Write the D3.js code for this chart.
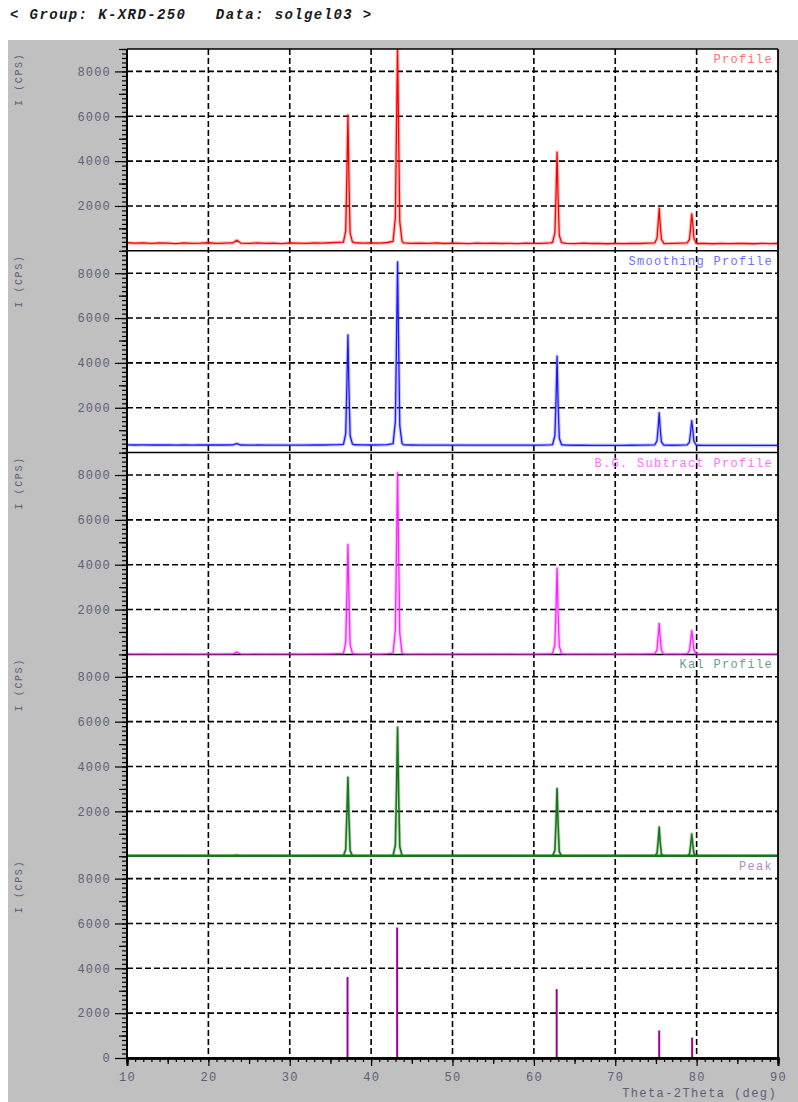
<!DOCTYPE html>
<html>
<head>
<meta charset="utf-8">
<script src="https://d3js.org/d3.v7.min.js"></script>
<style>
  body { margin: 0; background: #fff; }
  svg text { font-family: "Liberation Mono", "DejaVu Sans Mono", monospace; }
</style>
</head>
<body>
<svg id="chart"></svg>
<script>
// shared 2-theta grid (deg)
var twoTheta = [
  10, 11, 12, 13, 14, 15, 16, 17, 18, 19, 20, 21, 22, 23, 23.5,
  24, 25, 26, 27, 28, 29, 30, 31, 32, 33, 34, 35, 36,
  36.6, 36.88, 37.02, 37.15, 37.28, 37.42, 37.7,
  38, 39, 40, 41, 42,
  42.7, 42.98, 43.12, 43.25, 43.38, 43.52, 43.8,
  44, 45, 46, 47, 48, 49, 50, 51, 52, 53, 54, 55, 56, 57, 58, 59, 60, 61, 62,
  62.3, 62.58, 62.72, 62.85, 62.98, 63.12, 63.4,
  64, 65, 66, 67, 68, 69, 70, 71, 72, 73, 74,
  74.85, 75.13, 75.27, 75.4, 75.53, 75.67, 75.95,
  76, 77, 78,
  78.85, 79.13, 79.27, 79.4, 79.53, 79.67, 79.95,
  80, 81, 82, 83, 84, 85, 86, 87, 88, 89, 90
];

var profileCps = [
  360, 340, 355, 330, 350, 345, 320, 350, 335, 340, 360, 330, 345, 350, 470,
  340, 330, 355, 335, 345, 320, 350, 340, 330, 355, 345, 360, 380,
  390, 900, 3400, 6050, 3100, 800, 400,
  360, 345, 350, 340, 370,
  420, 1500, 5600, 9100, 5200, 1300, 430,
  350, 335, 345, 330, 350, 325, 340, 335, 320, 345, 330, 340, 325, 335, 320, 340, 330, 335, 355,
  370, 800, 2500, 4400, 2300, 700, 360,
  330, 320, 340, 325, 335, 315, 330, 320, 335, 325, 340,
  350, 560, 1200, 1900, 1150, 520, 340,
  320, 330, 340,
  350, 520, 1100, 1650, 1200, 560, 340,
  325, 330, 315, 335, 320, 330, 325, 315, 330, 320, 325
];

var smoothCps = [
  345, 340, 342, 338, 340, 338, 336, 338, 337, 338, 340, 338, 339, 342, 400,
  338, 336, 338, 337, 336, 335, 337, 336, 336, 338, 340, 345, 355,
  370, 850, 3000, 5250, 2800, 750, 380,
  350, 342, 340, 342, 355,
  400, 1400, 5000, 8500, 4800, 1200, 410,
  345, 338, 336, 335, 336, 334, 333, 334, 333, 332, 333, 332, 331, 332, 331, 332, 333, 335, 345,
  360, 750, 2300, 4300, 2150, 650, 350,
  330, 328, 327, 326, 326, 325, 325, 326, 327, 330, 335,
  345, 520, 1100, 1780, 1050, 480, 340,
  330, 328, 332,
  345, 480, 950, 1420, 1000, 500, 340,
  328, 326, 325, 324, 324, 323, 323, 322, 322, 322, 322
];

var bgSubCps = [
  10, 0, 15, 0, 5, 10, 0, 8, 0, 5, 12, 0, 6, 10, 100,
  5, 0, 10, 0, 6, 0, 8, 4, 0, 10, 6, 15, 30,
  40, 550, 2700, 4900, 2500, 450, 40,
  15, 5, 10, 0, 20,
  60, 1100, 4700, 8100, 4500, 950, 60,
  10, 0, 8, 0, 12, 0, 5, 6, 0, 10, 0, 6, 0, 8, 0, 5, 0, 6, 15,
  30, 450, 2000, 3850, 1850, 380, 25,
  0, 8, 0, 6, 0, 10, 0, 5, 8, 0, 12,
  20, 200, 800, 1380, 750, 180, 15,
  0, 8, 5,
  20, 170, 650, 1060, 700, 200, 15,
  0, 6, 0, 8, 0, 5, 0, 6, 0, 4, 0
];

var ka1Cps = [
  5, 0, 5, 0, 4, 0, 6, 0, 3, 0, 5, 0, 4, 0, 40,
  0, 4, 0, 5, 0, 3, 0, 6, 0, 4, 0, 8, 15,
  20, 300, 1900, 3520, 1700, 250, 15,
  5, 0, 4, 0, 10,
  30, 500, 3000, 5750, 2800, 420, 30,
  5, 0, 4, 0, 6, 0, 3, 0, 5, 0, 4, 0, 6, 0, 3, 0, 5, 0, 10,
  15, 250, 1500, 3020, 1400, 200, 10,
  0, 4, 0, 5, 0, 3, 0, 6, 0, 4, 5,
  10, 120, 650, 1300, 600, 100, 8,
  0, 5, 3,
  10, 100, 500, 990, 520, 120, 8,
  0, 4, 0, 5, 0, 3, 0, 4, 0, 5, 0
];

// peak list
var peakPos = [37.1, 43.2, 62.8, 75.4, 79.45];
var peakCps = [3610, 5820, 3070, 1230, 910];

var panelNames = ["Profile", "Smoothing Profile", "B.G. Subtract Profile", "Kal Profile", "Peak"];
var panelColors = ["#ff0000", "#1a1aff", "#ff22ff", "#1a761a", "#990099"];
var titleColors = ["#ff7070", "#6f6fff", "#ff70ff", "#6a9e86", "#b58abf"];
var yTicks = [2000, 4000, 6000, 8000];
var xTicks = [10, 20, 30, 40, 50, 60, 70, 80, 90];

var width = 798, height = 1102;
var pLeft = 127, pRight = 778, pTop = 49, pBottom = 1058;
var panelH = (pBottom - pTop) / 5;
var labelColor = "#5e5e78";

var svg = d3.select("#chart").attr("width", width).attr("height", height);

svg.append("rect").attr("x", 8).attr("y", 40).attr("width", width - 8).attr("height", height - 40)
  .attr("fill", "#c0c0c0");
svg.append("rect").attr("x", pLeft).attr("y", pTop).attr("width", pRight - pLeft).attr("height", pBottom - pTop)
  .attr("fill", "#fff");

svg.append("text").attr("x", 10).attr("y", 19)
  .attr("font-size", "14px").attr("font-weight", "bold").attr("font-style", "italic")
  .attr("letter-spacing", "1.4px").attr("fill", "#1a1a1a")
  .style("white-space", "pre")
  .text("< Group: K-XRD-250   Data: solgel03 >");

var x = d3.scaleLinear().domain([10, 90]).range([pLeft, pRight]);

// vertical grid through all panels
svg.append("g").selectAll("line").data(xTicks.slice(1, -1)).enter().append("line")
  .attr("x1", function (d) { return x(d); }).attr("x2", function (d) { return x(d); })
  .attr("y1", pTop).attr("y2", pBottom)
  .attr("stroke", "#000").attr("stroke-width", 1.6).attr("stroke-dasharray", "6,3");

var series = [profileCps, smoothCps, bgSubCps, ka1Cps];

panelNames.forEach(function (name, i) {
  var t = pTop + i * panelH, b = t + panelH;
  var y = d3.scaleLinear().domain([0, 9000]).range([b, t]);
  var g = svg.append("g");

  g.append("clipPath").attr("id", "clip" + i).append("rect")
    .attr("x", pLeft).attr("y", t).attr("width", pRight - pLeft).attr("height", panelH);

  // horizontal grid
  g.selectAll(".hgrid").data(yTicks).enter().append("line")
    .attr("x1", pLeft).attr("x2", pRight)
    .attr("y1", function (d) { return y(d); }).attr("y2", function (d) { return y(d); })
    .attr("stroke", "#000").attr("stroke-width", 1.6).attr("stroke-dasharray", "6,3");

  // y axis: minor, mid, major ticks
  var minor = g.append("g").attr("transform", "translate(" + pLeft + ",0)")
    .call(d3.axisLeft(y).tickValues(d3.range(0, 9001, 200)).tickSize(5).tickFormat(""));
  var mid = g.append("g").attr("transform", "translate(" + pLeft + ",0)")
    .call(d3.axisLeft(y).tickValues(d3.range(1000, 9001, 2000)).tickSize(8).tickFormat(""));
  var major = g.append("g").attr("transform", "translate(" + pLeft + ",0)")
    .call(d3.axisLeft(y).tickValues(i === 4 ? [0].concat(yTicks) : yTicks).tickSize(12).tickPadding(4)
      .tickFormat(d3.format("d")));
  [minor, mid, major].forEach(function (a) {
    a.select(".domain").remove();
    a.selectAll("line").attr("stroke", "#000").attr("stroke-width", 1.2);
  });
  major.selectAll("text").attr("fill", labelColor).attr("font-size", "12px")
    .attr("letter-spacing", "1.2px").style("font-family", "'Liberation Mono', monospace");

  g.append("text")
    .attr("transform", "translate(22," + (t + 57) + ") rotate(-90)")
    .attr("font-size", "10px").attr("letter-spacing", "1.6px").attr("fill", labelColor)
    .style("white-space", "pre")
    .text("I (CPS)");

  // panel separator
  g.append("line").attr("x1", pLeft).attr("x2", pRight).attr("y1", b).attr("y2", b)
    .attr("stroke", "#000").attr("stroke-width", 1.5);

  if (i < 4) {
    var line = d3.line()
      .x(function (d) { return x(d[0]); })
      .y(function (d) { return y(d[1]); });
    var pts = d3.zip(twoTheta, series[i]);
    // soft halo like the anti-aliased original
    g.append("path").datum(pts)
      .attr("clip-path", "url(#clip" + i + ")")
      .attr("d", line).attr("fill", "none")
      .attr("stroke", panelColors[i]).attr("stroke-opacity", 0.25).attr("stroke-width", 3.5)
      .attr("stroke-linejoin", "round");
    g.append("path").datum(pts)
      .attr("clip-path", "url(#clip" + i + ")")
      .attr("d", line).attr("fill", "none")
      .attr("stroke", panelColors[i]).attr("stroke-width", i === 3 ? 1.6 : 1.3)
      .attr("stroke-linejoin", "round");
  } else {
    g.selectAll(".stick").data(d3.zip(peakPos, peakCps)).enter().append("line")
      .attr("x1", function (d) { return x(d[0]); }).attr("x2", function (d) { return x(d[0]); })
      .attr("y1", y(0)).attr("y2", function (d) { return y(d[1]); })
      .attr("stroke", panelColors[i]).attr("stroke-width", 2);
  }

  g.append("text").attr("x", pRight - 5).attr("y", t + 14)
    .attr("text-anchor", "end").attr("font-size", "12px").attr("letter-spacing", "1.3px")
    .attr("fill", titleColors[i])
    .style("white-space", "pre")
    .text(name);
});

// thicker green baseline under the Ka1 profile
svg.append("line").attr("x1", pLeft).attr("x2", pRight)
  .attr("y1", pTop + 4 * panelH - 0.5).attr("y2", pTop + 4 * panelH - 0.5)
  .attr("stroke", panelColors[3]).attr("stroke-width", 2.5);

// frame
svg.append("line").attr("x1", pLeft).attr("x2", pRight).attr("y1", pTop).attr("y2", pTop)
  .attr("stroke", "#000").attr("stroke-width", 1.5);
svg.append("line").attr("x1", pRight).attr("x2", pRight).attr("y1", pTop).attr("y2", pBottom)
  .attr("stroke", "#000").attr("stroke-width", 1.8);
svg.append("line").attr("x1", pLeft).attr("x2", pLeft).attr("y1", pTop).attr("y2", pBottom)
  .attr("stroke", "#000").attr("stroke-width", 2);

// x axis
var xMinor = svg.append("g").attr("transform", "translate(0," + pBottom + ")")
  .call(d3.axisBottom(x).tickValues(d3.range(10, 91, 1)).tickSize(4).tickFormat(""));
var xMid = svg.append("g").attr("transform", "translate(0," + pBottom + ")")
  .call(d3.axisBottom(x).tickValues(d3.range(15, 90, 10)).tickSize(6).tickFormat(""));
var xMajor = svg.append("g").attr("transform", "translate(0," + pBottom + ")")
  .call(d3.axisBottom(x).tickValues(xTicks).tickSize(8).tickPadding(6).tickFormat(d3.format("d")));
[xMinor, xMid, xMajor].forEach(function (a) {
  a.select(".domain").attr("stroke", "#000").attr("stroke-width", 2);
  a.selectAll("line").attr("stroke", "#000").attr("stroke-width", 1.2);
});
xMajor.selectAll("text").attr("fill", labelColor).attr("font-size", "12px")
  .attr("letter-spacing", "1.3px").style("font-family", "'Liberation Mono', monospace");

svg.append("text").attr("x", pRight - 1).attr("y", 1097)
  .attr("text-anchor", "end").attr("font-size", "12px").attr("letter-spacing", "1.4px")
  .attr("fill", labelColor).text("Theta-2Theta (deg)");
</script>
</body>
</html>
